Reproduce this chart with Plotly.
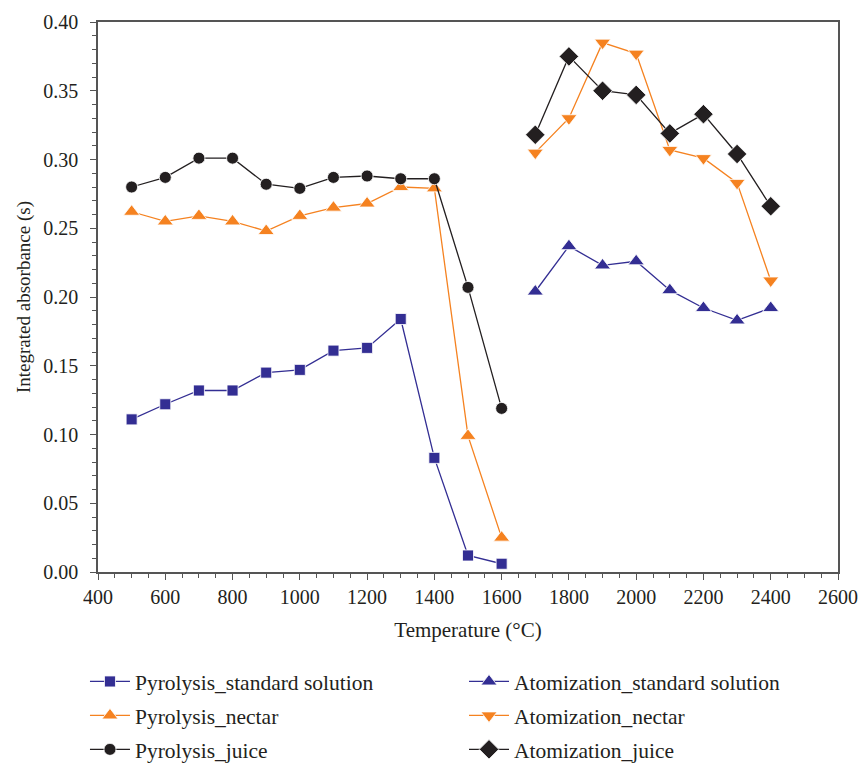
import plotly.graph_objects as go

pyro_temp = [500, 600, 700, 800, 900, 1000, 1100, 1200, 1300, 1400, 1500, 1600]
atom_temp = [1700, 1800, 1900, 2000, 2100, 2200, 2300, 2400]

pyro_standard = [0.111, 0.122, 0.132, 0.132, 0.145, 0.147, 0.161, 0.163, 0.184, 0.083, 0.012, 0.006]
pyro_nectar = [0.262, 0.255, 0.259, 0.255, 0.248, 0.259, 0.265, 0.268, 0.280, 0.279, 0.099, 0.025]
pyro_juice = [0.280, 0.287, 0.301, 0.301, 0.282, 0.279, 0.287, 0.288, 0.286, 0.286, 0.207, 0.119]

atom_standard = [0.204, 0.237, 0.223, 0.226, 0.205, 0.192, 0.183, 0.192]
atom_nectar = [0.305, 0.330, 0.385, 0.377, 0.307, 0.301, 0.283, 0.212]
atom_juice = [0.318, 0.375, 0.350, 0.347, 0.319, 0.333, 0.304, 0.266]

BLUE = "#332e93"
ORANGE = "#f58220"
BLACK = "#231f20"
FONT = "Liberation Serif"
TXT = "#231f20"

series = [
    ("Pyrolysis_standard solution", pyro_temp, pyro_standard, BLUE, "square", 11, "legend"),
    ("Pyrolysis_nectar", pyro_temp, pyro_nectar, ORANGE, "triangle-up", 14, "legend"),
    ("Pyrolysis_juice", pyro_temp, pyro_juice, BLACK, "circle", 12, "legend"),
    ("Atomization_standard solution", atom_temp, atom_standard, BLUE, "triangle-up", 14, "legend2"),
    ("Atomization_nectar", atom_temp, atom_nectar, ORANGE, "triangle-down", 14, "legend2"),
    ("Atomization_juice", atom_temp, atom_juice, BLACK, "diamond", 15, "legend2"),
]

fig = go.Figure()
for name, xs, ys, col, sym, sz, lg in series:
    fig.add_trace(go.Scatter(
        x=xs, y=ys, name=name, mode="lines+markers",
        legend=lg, legendgroup=name,
        line=dict(color=col, width=1.3),
        marker=dict(symbol=sym, size=sz, color=col, line=dict(color="white", width=0.8)),
    ))

axis_common = dict(
    showline=True, linecolor="#555555", linewidth=1.5, mirror=True,
    ticks="outside", ticklen=6, tickwidth=1.2, tickcolor="#555555",
    showgrid=False, zeroline=False,
    tickfont=dict(family=FONT, size=20, color=TXT),
    minor=dict(ticks="outside", ticklen=4, tickwidth=1, tickcolor="#555555"),
)

fig.update_xaxes(
    range=[400, 2600], tick0=400, dtick=200,
    title=dict(text="Temperature (°C)", font=dict(family=FONT, size=21, color=TXT), standoff=16),
    **axis_common,
)
fig.update_yaxes(
    range=[0, 0.40], tick0=0, dtick=0.05, tickformat=".2f",
    ticklabelstandoff=8,
    title=dict(text="Integrated absorbance (s)", font=dict(family=FONT, size=19, color=TXT), standoff=8),
    **axis_common,
)

legend_common = dict(
    orientation="v", yanchor="top", xanchor="left", y=-0.1618,
    font=dict(family=FONT, size=21.5, color=TXT),
    itemwidth=40, traceorder="grouped", tracegroupgap=3,
    bgcolor="rgba(0,0,0,0)", borderwidth=0,
)

fig.update_layout(
    width=862, height=763,
    paper_bgcolor="white", plot_bgcolor="white",
    margin=dict(l=98, r=24, t=22, b=191, autoexpand=False),
    font=dict(family=FONT, size=20, color=TXT),
    showlegend=True,
    legend=dict(x=-0.0176, **legend_common),
    legend2=dict(x=0.4946, **legend_common),
)

fig.write_html(
    "out.html",
    config={"displayModeBar": False},
    post_script="document.body.style.margin='0';document.body.style.overflow='hidden';",
)
